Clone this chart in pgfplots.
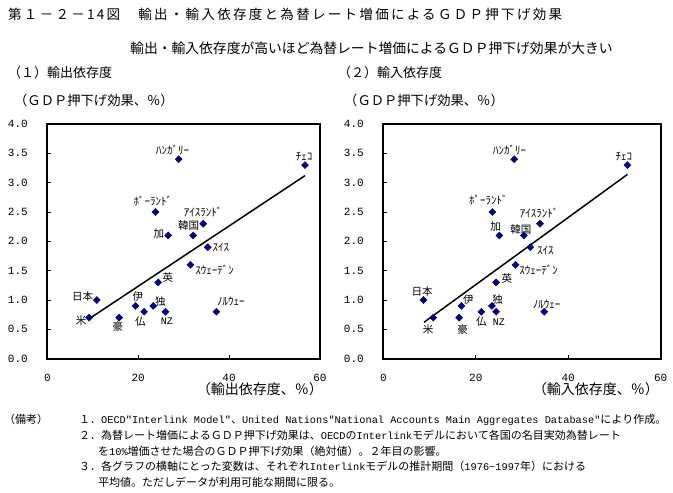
\documentclass[border=0pt]{standalone}
\usepackage{pgfplots}
\pgfplotsset{compat=1.18}
\usepackage{pgfplotstable}
\usepackage{fontspec}
\setmainfont{Noto Sans CJK JP}
\newfontfamily\titlefont[LetterSpace=17]{Noto Sans CJK JP}
\newfontfamily\monofont{Liberation Mono}
\definecolor{navy}{RGB}{0,0,128}

\pgfplotstableread{
x y
9.2 0.7
10.9 1.0
15.8 0.7
19.4 0.9
21.3 0.8
23.3 0.9
24.4 1.3
26.0 0.8
37.2 0.8
31.5 1.6
35.3 1.9
26.6 2.1
32.1 2.1
34.3 2.3
23.8 2.5
28.9 3.4
56.7 3.3
}\expdata

\pgfplotstableread{
x y
10.8 0.7
8.7 1.0
16.4 0.7
16.9 0.9
21.2 0.8
23.5 0.9
24.4 1.3
24.4 0.8
34.8 0.8
28.6 1.6
31.8 1.9
25.1 2.1
30.4 2.1
33.9 2.3
23.6 2.5
28.3 3.4
52.8 3.3
}\impdata

\tikzset{
  kana/.style={font=\fontsize{11}{11}\selectfont, inner sep=0pt},
  kanji/.style={font=\fontsize{10.5}{10.5}\selectfont, inner sep=0pt},
  nz/.style={font=\monofont\fontsize{10}{10}\selectfont, inner sep=0pt},
}
\newcommand{\nm}[1]{{\monofont\fontsize{10.3}{11}\selectfont #1}}
\pgfplotsset{
  gdpaxis/.style={
    scale only axis, anchor=south west,
    xmin=0,xmax=60,ymin=0,ymax=4,
    xtick={0,20,40,60}, ytick={0,0.5,1,1.5,2,2.5,3,3.5,4},
    tick pos=left, tick align=inside,
    major tick length=4pt,
    axis line style={line width=1.8pt},
    every tick/.style={black,line width=0.9pt},
    /pgf/number format/assume math mode=true,
    tick label style={font=\monofont\fontsize{11}{13}\selectfont},
    yticklabel style={/pgf/number format/.cd,fixed,fixed zerofill,precision=1},
    xticklabel shift=12pt,
    yticklabel shift=16pt,
    clip=false,
  },
  dots/.style={only marks, mark=square*, mark size=2.5pt, mark options={navy, fill=navy, rotate=45}},
}

\begin{document}
\begin{tikzpicture}
\useasboundingbox (0,0) rectangle (673pt,493pt);

% titles
\node[anchor=base west, inner sep=0pt, font=\titlefont\fontsize{13.5}{14}\selectfont] at (8pt,473.9pt) {第１－２－14図　輸出・輸入依存度と為替レート増価によるＧＤＰ押下げ効果};
\node[anchor=base west, inner sep=0pt, font=\fontsize{13.8}{14}\selectfont] at (130pt,439.9pt) {輸出・輸入依存度が高いほど為替レート増価によるＧＤＰ押下げ効果が大きい};
\node[anchor=base west, inner sep=0pt, font=\fontsize{13}{14}\selectfont] at (8pt,415.1pt) {（１）輸出依存度};
\node[anchor=base west, inner sep=0pt, font=\fontsize{13}{14}\selectfont] at (338pt,415.1pt) {（２）輸入依存度};
\node[anchor=base west, inner sep=0pt, font=\fontsize{13.3}{14}\selectfont] at (14pt,387.1pt) {（ＧＤＰ押下げ効果、％）};
\node[anchor=base west, inner sep=0pt, font=\fontsize{13.3}{14}\selectfont] at (344pt,387.1pt) {（ＧＤＰ押下げ効果、％）};
\node[anchor=base east, inner sep=0pt, font=\fontsize{14}{14}\selectfont] at (323pt,98.1pt) {（輸出依存度、％）};
\node[anchor=base east, inner sep=0pt, font=\fontsize{14}{14}\selectfont] at (659pt,98.1pt) {（輸入依存度、％）};

% left plot
\begin{axis}[gdpaxis, at={(47.3pt,134.3pt)}, width=272.7pt, height=234.7pt]
\addplot[dots] table {\expdata};
\addplot[black, line width=1.5pt] coordinates {(9.2,0.68) (56.7,3.12)};
\node[kana,xshift=-6pt,yshift=9.3pt] at (axis cs:28.9,3.4) {ﾊﾝｶﾞﾘｰ};
\node[kana,xshift=-1pt,yshift=8.3pt] at (axis cs:56.7,3.3) {ﾁｪｺ};
\node[kana,xshift=-2.6pt,yshift=11pt] at (axis cs:23.8,2.5) {ﾎﾟｰﾗﾝﾄﾞ};
\node[kana,xshift=0pt,yshift=11.8pt] at (axis cs:34.3,2.3) {ｱｲｽﾗﾝﾄﾞ};
\node[kanji,xshift=-4.5pt,yshift=9.6pt] at (axis cs:32.1,2.1) {韓国};
\node[kanji,xshift=-9.3pt,yshift=2pt] at (axis cs:26.6,2.1) {加};
\node[kana,xshift=13.1pt,yshift=-0.5pt] at (axis cs:35.3,1.9) {ｽｲｽ};
\node[kana,xshift=24.2pt,yshift=-5.5pt] at (axis cs:31.5,1.6) {ｽｳｪｰﾃﾞﾝ};
\node[kanji,xshift=9.7pt,yshift=4.6pt] at (axis cs:24.4,1.3) {英};
\node[kanji,xshift=-14.2pt,yshift=3.3pt] at (axis cs:10.9,1.0) {日本};
\node[kanji,xshift=2.4pt,yshift=9.3pt] at (axis cs:19.4,0.9) {伊};
\node[kanji,xshift=7.2pt,yshift=4.7pt] at (axis cs:23.3,0.9) {独};
\node[kanji,xshift=-8pt,yshift=-2.5pt] at (axis cs:9.2,0.7) {米};
\node[kanji,xshift=-1.3pt,yshift=-8.4pt] at (axis cs:15.8,0.7) {豪};
\node[kanji,xshift=-3.8pt,yshift=-9.7pt] at (axis cs:21.3,0.8) {仏};
\node[nz,xshift=1.4pt,yshift=-9.3pt] at (axis cs:26.0,0.8) {NZ};
\node[kana,xshift=14.5pt,yshift=10pt] at (axis cs:37.2,0.8) {ﾉﾙｳｪｰ};
\end{axis}

% right plot
\begin{axis}[gdpaxis, at={(383.3pt,134.3pt)}, width=277.4pt, height=234.7pt]
\addplot[dots] table {\impdata};
\addplot[black, line width=1.5pt] coordinates {(8.8,0.62) (52.8,3.14)};
\node[kana,xshift=-4.5pt,yshift=9.3pt] at (axis cs:28.3,3.4) {ﾊﾝｶﾞﾘｰ};
\node[kana,xshift=-3.5pt,yshift=8.3pt] at (axis cs:52.8,3.3) {ﾁｪｺ};
\node[kana,xshift=-4pt,yshift=12pt] at (axis cs:23.6,2.5) {ﾎﾟｰﾗﾝﾄﾞ};
\node[kana,xshift=-1pt,yshift=11pt] at (axis cs:33.9,2.3) {ｱｲｽﾗﾝﾄﾞ};
\node[kanji,xshift=-3pt,yshift=6pt] at (axis cs:30.4,2.1) {韓国};
\node[kanji,xshift=-3.6pt,yshift=9pt] at (axis cs:25.1,2.1) {加};
\node[kana,xshift=15pt,yshift=-3pt] at (axis cs:31.8,1.9) {ｽｲｽ};
\node[kana,xshift=23pt,yshift=-5.7pt] at (axis cs:28.6,1.6) {ｽｳｪｰﾃﾞﾝ};
\node[kanji,xshift=10.7pt,yshift=3.6pt] at (axis cs:24.4,1.3) {英};
\node[kanji,xshift=-1.4pt,yshift=9pt] at (axis cs:8.7,1.0) {日本};
\node[kanji,xshift=7pt,yshift=6.3pt] at (axis cs:16.9,0.9) {伊};
\node[kanji,xshift=5.7pt,yshift=6.3pt] at (axis cs:23.5,0.9) {独};
\node[kanji,xshift=-5pt,yshift=-11.7pt] at (axis cs:10.8,0.7) {米};
\node[kanji,xshift=3.5pt,yshift=-11.7pt] at (axis cs:16.4,0.7) {豪};
\node[kanji,xshift=0pt,yshift=-10pt] at (axis cs:21.2,0.8) {仏};
\node[nz,xshift=2.7pt,yshift=-10.4pt] at (axis cs:24.4,0.8) {NZ};
\node[kana,xshift=2.4pt,yshift=7.8pt] at (axis cs:34.8,0.8) {ﾉﾙｳｪｰ};
\end{axis}

% notes
\begin{scope}[every node/.style={anchor=base west, inner sep=0pt, font=\fontsize{11}{12}\selectfont}]
\node at (4pt,69pt) {（備考）};
\node at (79pt,69pt) {１．\nm{OECD"Interlink Model"}、\nm{United Nations"National Accounts Main Aggregates Database"}により作成。};
\node at (79pt,53pt) {２．為替レート増価によるＧＤＰ押下げ効果は、\nm{OECD}の\nm{Interlink}モデルにおいて各国の名目実効為替レート};
\node at (98pt,37.5pt) {を\nm{10\%}増価させた場合のＧＤＰ押下げ効果（絶対値）。２年目の影響。};
\node at (79pt,22pt) {３．各グラフの横軸にとった変数は、それぞれ\nm{Interlink}モデルの推計期間（\nm{1976\textasciitilde 1997}年）における};
\node at (98pt,6.5pt) {平均値。ただしデータが利用可能な期間に限る。};
\end{scope}
\end{tikzpicture}
\end{document}
